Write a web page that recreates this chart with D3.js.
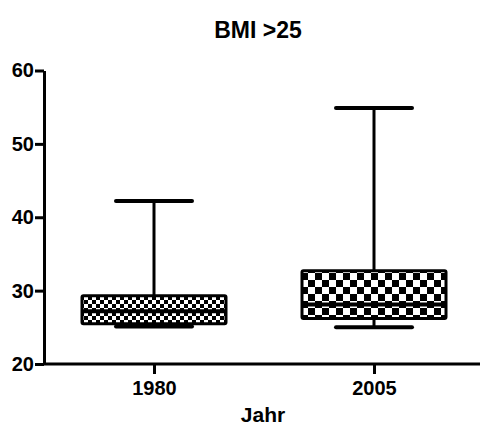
<!DOCTYPE html>
<html lang="de">
<head>
<meta charset="utf-8">
<script src="https://d3js.org/d3.v7.min.js"></script>
<style>
  body { margin: 0; background: #fff; }
  svg text { font-family: 'Liberation Sans', Arial, sans-serif; font-weight: bold; fill: #000; }
  .axis path, .axis line { stroke: #000; stroke-width: 3px; }
  .axis text { font-size: 20px; }
</style>
</head>
<body>
<svg width="480" height="434"></svg>
<script>
  // Box plot values
  const groups  = ["1980", "2005"]
  const mins    = [25.1, 25.0]
  const q1s     = [25.5, 26.2]
  const medians = [27.2, 28.1]
  const q3s     = [29.3, 32.7]
  const maxs    = [42.2, 54.9]
  const yTicks  = [20, 30, 40, 50, 60]
  const checkSize = [4, 7]   // checker square size per box

  const width = 480, height = 434
  const margin = { top: 70.5, right: 0, bottom: 70, left: 44 }
  const svg = d3.select("svg")

  const x = d3.scalePoint().domain(groups).range([154, 374])
  const y = d3.scaleLinear().domain([20, 60]).range([364, 70.5])

  // checker patterns
  const defs = svg.append("defs")
  checkSize.forEach(function (s, i) {
    const p = defs.append("pattern")
      .attr("id", "check" + i)
      .attr("patternUnits", "userSpaceOnUse")
      .attr("width", s * 2).attr("height", s * 2)
    p.append("rect").attr("width", s * 2).attr("height", s * 2).attr("fill", "#fff")
    p.append("rect").attr("width", s).attr("height", s).attr("fill", "#000")
    p.append("rect").attr("x", s).attr("y", s).attr("width", s).attr("height", s).attr("fill", "#000")
  })

  // title
  svg.append("text")
    .attr("x", 258).attr("y", 38)
    .attr("text-anchor", "middle")
    .style("font-size", "23px")
    .text("BMI >25")

  // axes
  svg.append("g")
    .attr("class", "axis y")
    .attr("transform", "translate(" + margin.left + ",0)")
    .call(d3.axisLeft(y).tickValues(yTicks).tickSize(9).tickSizeOuter(0).tickPadding(1))
  svg.append("g")
    .attr("class", "axis x")
    .attr("transform", "translate(0," + y(20) + ")")
    .call(d3.axisBottom(x).tickSize(10).tickPadding(7))
    .select(".domain").attr("d", "M" + margin.left + ",0H" + width)

  svg.append("text")
    .attr("x", 263).attr("y", 422)
    .attr("text-anchor", "middle")
    .style("font-size", "21px")
    .text("Jahr")

  // boxes
  const boxHalf = 72, capHalf = 38
  const g = svg.append("g").attr("class", "boxes")
  groups.forEach(function (k, i) {
    const cx = x(k)
    // whisker
    g.append("line")
      .attr("x1", cx).attr("x2", cx)
      .attr("y1", y(maxs[i])).attr("y2", y(mins[i]))
      .attr("stroke", "#000").attr("stroke-width", 3)
    // caps
    ;[maxs[i], mins[i]].forEach(function (v) {
      g.append("line")
        .attr("x1", cx - capHalf).attr("x2", cx + capHalf)
        .attr("y1", y(v)).attr("y2", y(v))
        .attr("stroke", "#000").attr("stroke-width", 4)
        .attr("stroke-linecap", "round")
    })
    // box
    g.append("rect")
      .attr("x", cx - boxHalf).attr("width", boxHalf * 2)
      .attr("y", y(q3s[i])).attr("height", y(q1s[i]) - y(q3s[i]))
      .attr("fill", "url(#check" + i + ")")
      .attr("stroke", "#000").attr("stroke-width", 3)
      .attr("rx", 1.5)
    // median
    g.append("line")
      .attr("x1", cx - boxHalf).attr("x2", cx + boxHalf)
      .attr("y1", y(medians[i])).attr("y2", y(medians[i]))
      .attr("stroke", "#000").attr("stroke-width", 4)
  })
</script>
</body>
</html>
